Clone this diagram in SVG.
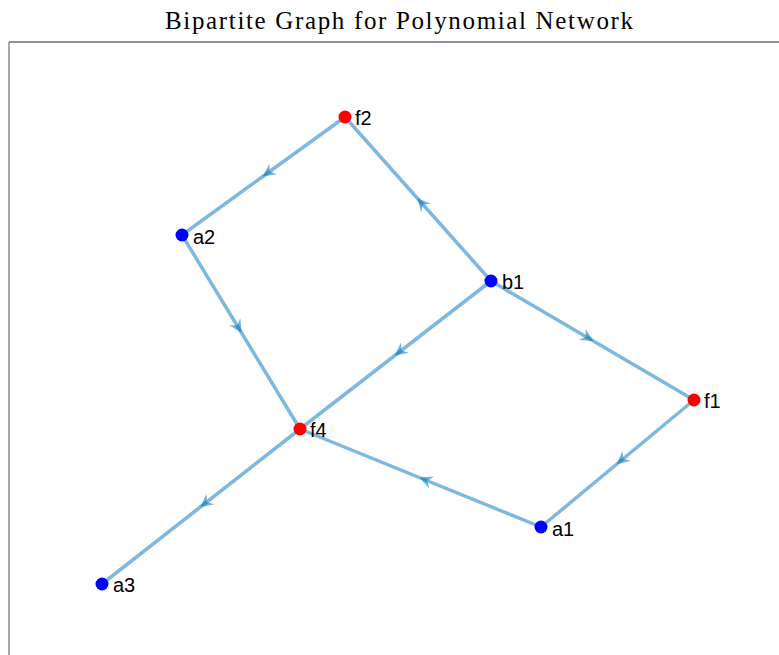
<svg xmlns="http://www.w3.org/2000/svg" width="779" height="655" viewBox="0 0 779 655">
<style>
.e{fill:none;stroke:#0072BD;stroke-opacity:0.5;stroke-width:3.5;marker-mid:url(#ah)}
.lbl{font-family:"Liberation Sans",Arial,sans-serif;font-size:20px;fill:#000}
.f{fill:#FF0000}
.a{fill:#0000FF}
</style>
<defs>
<marker id="ah" markerUnits="userSpaceOnUse" viewBox="-14 -8 16 16" refX="0" refY="0" markerWidth="16" markerHeight="16" orient="auto">
<path d="M1,0 L-12,-6.5 L-7.5,0 L-12,6.5 Z" fill="#0072BD" fill-opacity="0.55"/>
</marker>
</defs>
<rect width="779" height="655" fill="#fff"/>
<text x="399" y="29" text-anchor="middle" font-family="'Liberation Serif','DejaVu Serif',serif" font-size="25" textLength="468" lengthAdjust="spacing" fill="#000">Bipartite Graph for Polynomial Network</text>
<line x1="9" y1="42" x2="779" y2="42" stroke="#262626" stroke-width="1.2"/>
<line x1="9" y1="42" x2="9" y2="655" stroke="#6e6e6e" stroke-width="1.2"/>
<g id="connectors">
<path class="e" d="M345,117 L263.5,176 L182,235"/>
<path class="e" d="M491,281 L418,199 L345,117"/>
<path class="e" d="M182,235 L241,332 L300,429"/>
<path class="e" d="M491,281 L395.5,355 L300,429"/>
<path class="e" d="M491,281 L592.5,340.5 L694,400"/>
<path class="e" d="M694,400 L617.5,463.5 L541,527"/>
<path class="e" d="M541,527 L420.5,478 L300,429"/>
<path class="e" d="M300,429 L201,506.5 L102,584"/>
</g>
<g id="f2"><circle class="f" cx="345" cy="117" r="6.5"/><text class="lbl" x="355" y="125">f2</text></g>
<g id="a2"><circle class="a" cx="182" cy="235" r="6.5"/><text class="lbl" x="193" y="244">a2</text></g>
<g id="b1"><circle class="a" cx="491" cy="281" r="6.5"/><text class="lbl" x="502" y="289">b1</text></g>
<g id="f1"><circle class="f" cx="694" cy="400" r="6.5"/><text class="lbl" x="704" y="408">f1</text></g>
<g id="f4"><circle class="f" cx="300" cy="429" r="6.5"/><text class="lbl" x="310" y="437">f4</text></g>
<g id="a1"><circle class="a" cx="541" cy="527" r="6.5"/><text class="lbl" x="552" y="536">a1</text></g>
<g id="a3"><circle class="a" cx="102" cy="584" r="6.5"/><text class="lbl" x="113" y="592">a3</text></g>
</svg>
